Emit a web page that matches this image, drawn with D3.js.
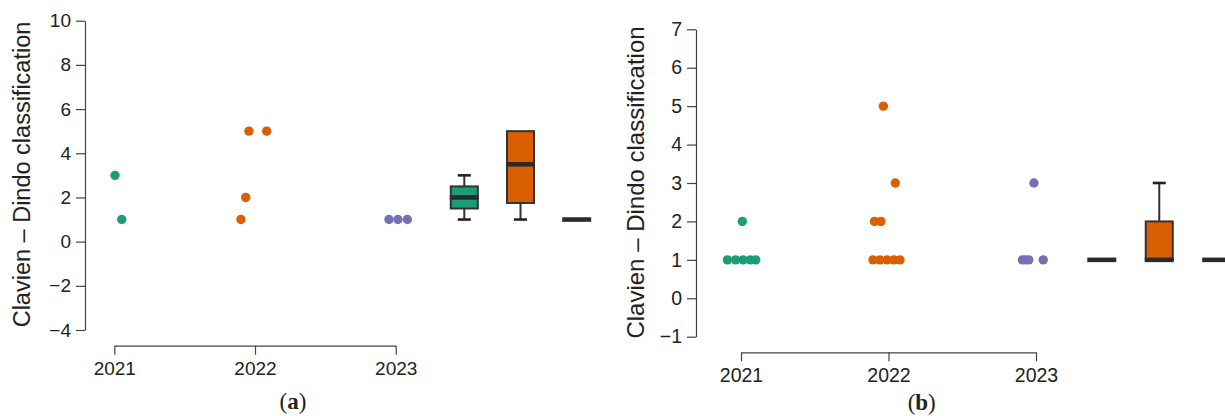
<!DOCTYPE html>
<html>
<head>
<meta charset="utf-8">
<script src="https://cdn.jsdelivr.net/npm/d3@7"></script>
<style>
  body { margin: 0; background: #fff; }
  svg text { font-family: "Liberation Sans", Arial, sans-serif; fill: #222; }
  .domain, .tick line { stroke: #444; }
</style>
</head>
<body>
<div id="chart"></div>
<script>
// categories
const years = ["2021", "2022", "2023"];
const colors = ["#1b9e77", "#d95f02", "#7570b3"];

// panel (a): one point per patient, jitter (in years)
const aYear = [2021, 2021, 2022, 2022, 2022, 2022, 2023, 2023, 2023];
const aGrade = [3, 1, 1, 2, 5, 5, 1, 1, 1];
const aJitter = [0.005, 0.053, -0.10, -0.066, -0.043, 0.083, -0.048, 0.016, 0.083];
const aTicks = [-4, -2, 0, 2, 4, 6, 8, 10];

// panel (b)
const bYear = [2021, 2021, 2021, 2021, 2021, 2021,
               2022, 2022, 2022, 2022, 2022, 2022, 2022, 2022, 2022,
               2023, 2023, 2023, 2023, 2023];
const bGrade = [2, 1, 1, 1, 1, 1,
                5, 3, 2, 2, 1, 1, 1, 1, 1,
                3, 1, 1, 1, 1];
const bJitter = [0.009, -0.092, -0.037, 0.014, 0.064, 0.10,
                 -0.035, 0.046, -0.095, -0.051, -0.105, -0.058, -0.01, 0.037, 0.078,
                 -0.014, -0.092, -0.071, -0.049, 0.049];
const bTicks = [-1, 0, 1, 2, 3, 4, 5, 6, 7];

const yLabel = "Clavien \u2013 Dindo classification";

const svg = d3.select("#chart")
    .append("svg")
    .attr("width", 1225)
    .attr("height", 416);

function drawPanel(p) {
    const g = svg.append("g");

    const y = d3.scaleLinear().domain(p.yDomain).range(p.yRange);
    const x = d3.scaleLinear().domain([2021, 2023]).range(p.xRange);
    const xBox = d3.scalePoint().domain(years).range(p.boxRange);

    // y axis
    const yAxis = g.append("g")
        .attr("transform", `translate(${p.yAxisX},0)`)
        .call(d3.axisLeft(y).tickValues(p.ticks).tickSizeOuter(0).tickSizeInner(9).tickPadding(5));
    yAxis.selectAll("text").style("font-size", p.tickFont + "px");

    // x axis, only the three years
    const xAxis = g.append("g")
        .attr("transform", `translate(0,${p.xAxisY})`)
        .call(d3.axisBottom(x).tickValues([2021, 2022, 2023]).tickFormat(d3.format("d"))
            .tickSizeOuter(0).tickSizeInner(9).tickPadding(p.xPad));
    xAxis.selectAll("text").style("font-size", p.tickFont + "px");
    g.selectAll(".domain, .tick line").attr("stroke-width", 1.2);

    // y label
    g.append("text")
        .attr("transform", `translate(${p.labelX},${p.labelY}) rotate(-90)`)
        .attr("text-anchor", "middle")
        .style("font-size", p.labelFont + "px")
        .text(yLabel);

    // jittered points
    const pts = p.year.map((yr, i) => ({ year: yr, grade: p.grade[i], jit: p.jitter[i] }));
    g.selectAll("circle.pt")
        .data(pts)
        .enter()
        .append("circle")
        .attr("class", "pt")
        .attr("cx", d => x(d.year + d.jit))
        .attr("cy", d => y(d.grade))
        .attr("r", 4.7)
        .attr("fill", d => colors[d.year - 2021]);

    // box plots, stats from the same values
    const boxW = 27, capW = 13;
    years.forEach((yr, i) => {
        const vals = pts.filter(d => d.year === +yr).map(d => d.grade).sort(d3.ascending);
        const q1 = d3.quantile(vals, 0.25);
        const med = d3.quantile(vals, 0.5);
        const q3 = d3.quantile(vals, 0.75);
        const iqr = q3 - q1;
        const lo = d3.min(vals.filter(v => v >= q1 - 1.5 * iqr));
        const hi = d3.max(vals.filter(v => v <= q3 + 1.5 * iqr));
        const cx = xBox(yr);
        const bg = g.append("g");

        if (hi > q3) {
            bg.append("line").attr("x1", cx).attr("x2", cx).attr("y1", y(q3)).attr("y2", y(hi))
                .attr("stroke", "#333").attr("stroke-width", 2);
            bg.append("line").attr("x1", cx - capW / 2).attr("x2", cx + capW / 2)
                .attr("y1", y(hi)).attr("y2", y(hi)).attr("stroke", "#222").attr("stroke-width", 2.6);
        }
        if (lo < q1) {
            bg.append("line").attr("x1", cx).attr("x2", cx).attr("y1", y(q1)).attr("y2", y(lo))
                .attr("stroke", "#333").attr("stroke-width", 2);
            bg.append("line").attr("x1", cx - capW / 2).attr("x2", cx + capW / 2)
                .attr("y1", y(lo)).attr("y2", y(lo)).attr("stroke", "#222").attr("stroke-width", 2.6);
        }
        if (q3 > q1) {
            bg.append("rect")
                .attr("x", cx - boxW / 2)
                .attr("y", y(q3))
                .attr("width", boxW)
                .attr("height", y(q1) - y(q3))
                .attr("fill", colors[i])
                .attr("stroke", "#333")
                .attr("stroke-width", 2);
        }
        bg.append("line")
            .attr("x1", cx - boxW / 2 - 1).attr("x2", cx + boxW / 2 + 1)
            .attr("y1", y(med)).attr("y2", y(med))
            .attr("stroke", "#2b2b2b").attr("stroke-width", 4.6);
    });

    // panel letter
    const lt = svg.append("text")
        .attr("x", p.tagX)
        .attr("y", p.tagY)
        .attr("text-anchor", "middle")
        .style("font-family", "'Liberation Serif', 'Times New Roman', serif")
        .style("font-size", "23px");
    lt.append("tspan").text("(");
    lt.append("tspan").style("font-weight", "bold").text(p.tag);
    lt.append("tspan").text(")");
}

drawPanel({
    year: aYear, grade: aGrade, jitter: aJitter, ticks: aTicks,
    yDomain: [-4, 10], yRange: [330, 20.7], yAxisX: 85,
    xRange: [114.3, 395.7], xAxisY: 345.7, xPad: 7,
    boxRange: [464.3, 576.7],
    tickFont: 19, labelFont: 23.5, labelX: 29.5, labelY: 174.5,
    tag: "a", tagX: 293, tagY: 409
});

drawPanel({
    year: bYear, grade: bGrade, jitter: bJitter, ticks: bTicks,
    yDomain: [-1, 7], yRange: [336.7, 29.3], yAxisX: 696,
    xRange: [741, 1036], xAxisY: 352.3, xPad: 7,
    boxRange: [1101.8, 1216.7],
    tickFont: 19.5, labelFont: 24, labelX: 643.5, labelY: 182.5,
    tag: "b", tagX: 921.7, tagY: 410
});
</script>
</body>
</html>
